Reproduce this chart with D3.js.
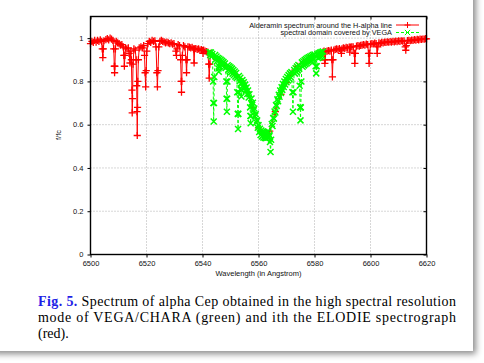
<!DOCTYPE html>
<html>
<head>
<meta charset="utf-8">
<script src="https://cdn.jsdelivr.net/npm/d3@7/dist/d3.min.js"></script>
<style>
  body { margin: 0; background: #fff; }
  svg { display: block; }
</style>
</head>
<body>
<svg id="chart" width="484" height="363"></svg>
<script>
// ELODIE spectrum (red), wavelength in Angstrom / normalised flux
const elodieSpectrum = [
  [6500.0,0.975],[6500.5,0.985],[6501.0,0.98],[6501.5,0.99],[6502.0,0.982],[6502.5,0.99],[6503.0,0.985],[6503.5,0.992],
  [6504.0,0.985],[6504.2,0.95],[6504.4,0.91],[6504.6,0.95],[6504.8,0.988],[6505.5,0.993],[6506.0,0.998],[6506.5,0.992],
  [6507.0,1.0],[6507.5,0.995],[6508.0,0.99],[6508.3,0.95],[6508.5,0.87],[6508.6,0.84],[6508.7,0.87],[6508.9,0.95],
  [6509.2,0.985],[6509.7,0.978],[6510.2,0.975],[6510.7,0.968],[6511.2,0.97],[6511.7,0.96],[6511.9,0.92],[6512.1,0.87],
  [6512.3,0.92],[6512.5,0.955],[6513.0,0.95],[6513.5,0.955],[6513.8,0.93],[6514.1,0.885],[6514.4,0.94],[6514.6,0.9],
  [6514.8,0.76],[6514.9,0.655],[6515.0,0.72],[6515.2,0.88],[6515.5,0.95],[6516.0,0.945],[6516.3,0.9],[6516.5,0.78],
  [6516.6,0.66],[6516.7,0.55],[6516.8,0.68],[6516.9,0.8],[6517.1,0.9],[6517.4,0.955],[6518.0,0.96],[6518.5,0.955],
  [6519.0,0.965],[6519.3,0.92],[6519.5,0.84],[6519.7,0.775],[6519.9,0.85],[6520.1,0.94],[6520.5,0.975],[6521.0,0.985],
  [6521.5,0.98],[6522.0,0.99],[6522.5,0.985],[6523.0,0.988],[6523.4,0.96],[6523.7,0.84],[6523.9,0.775],[6524.1,0.85],
  [6524.4,0.96],[6524.8,0.985],[6525.3,0.99],[6525.8,0.985],[6526.3,0.983],[6526.8,0.978],[6527.3,0.982],[6527.8,0.978],
  [6528.3,0.975],[6528.8,0.978],[6529.3,0.972],[6529.8,0.975],[6530.5,0.94],[6530.7,0.92],[6530.9,0.95],[6531.3,0.97],
  [6531.8,0.965],[6532.2,0.9],[6532.4,0.8],[6532.5,0.75],[6532.6,0.8],[6532.8,0.92],[6533.2,0.965],[6533.7,0.96],
  [6534.1,0.9],[6534.3,0.84],[6534.5,0.9],[6534.8,0.96],[6535.3,0.958],[6535.8,0.955],[6536.3,0.957],[6536.8,0.95],
  [6537.0,0.885],[6537.2,0.95],[6537.6,0.952],[6538.1,0.948],[6538.6,0.95],[6539.1,0.945],[6539.6,0.947],[6540.0,0.942],
  [6540.2,0.93],[6540.4,0.945],[6540.9,0.94],[6541.4,0.938],[6541.9,0.935],[6542.2,0.88],[6542.4,0.815],[6542.6,0.88],
  [6542.9,0.93],[6544.0,0.915],[6546.0,0.895],[6548.0,0.875],[6550.0,0.855],[6552.0,0.83],[6554.0,0.80],[6556.0,0.75],
  [6558.0,0.68],[6560.0,0.585],[6562.0,0.555],[6564.0,0.57],[6566.0,0.66],[6568.0,0.74],[6570.0,0.795],[6572.0,0.84],
  [6574.0,0.87],[6576.0,0.89],[6578.0,0.905],[6580.0,0.915],[6582.0,0.925],[6583.0,0.935],[6583.4,0.94],[6583.6,0.9],
  [6583.7,0.883],[6583.8,0.9],[6584.0,0.938],[6584.5,0.94],[6585.0,0.942],[6585.5,0.94],[6586.0,0.945],[6586.2,0.9],
  [6586.4,0.821],[6586.6,0.9],[6586.9,0.945],[6587.4,0.948],[6587.9,0.95],[6588.4,0.948],[6588.9,0.952],[6589.4,0.945],
  [6589.6,0.93],[6589.8,0.95],[6590.3,0.955],[6590.8,0.953],[6591.3,0.957],[6591.8,0.955],[6592.4,0.958],[6592.6,0.935],
  [6592.8,0.958],[6593.3,0.96],[6593.8,0.96],[6594.2,0.93],[6594.4,0.883],[6594.6,0.93],[6595.0,0.963],[6595.5,0.965],
  [6596.0,0.963],[6596.5,0.967],[6597.0,0.968],[6597.5,0.97],[6598.0,0.968],[6598.5,0.972],[6599.0,0.97],[6599.3,0.93],
  [6599.5,0.883],[6599.7,0.93],[6600.0,0.972],[6600.5,0.975],[6601.0,0.973],[6601.5,0.977],[6602.0,0.975],[6602.4,0.93],
  [6602.6,0.96],[6603.0,0.978],[6603.5,0.976],[6604.0,0.98],[6604.5,0.978],[6605.0,0.982],[6605.5,0.98],[6606.0,0.983],
  [6606.5,0.981],[6607.0,0.984],[6607.5,0.982],[6608.0,0.985],[6608.5,0.983],[6609.0,0.986],[6609.5,0.984],[6610.0,0.987],
  [6610.5,0.985],[6611.0,0.988],[6611.5,0.986],[6612.0,0.988],[6612.4,0.96],[6612.6,0.944],[6612.8,0.965],[6613.2,0.989],
  [6613.7,0.99],[6614.2,0.988],[6614.7,0.991],[6615.2,0.99],[6615.7,0.993],[6616.2,0.991],[6616.7,0.994],[6617.2,0.992],
  [6617.7,0.995],[6618.2,0.994],[6618.7,0.996],[6619.2,0.995],[6619.7,0.998],[6620.0,0.997],
];

// part of the spectrum covered by VEGA (green), read with its scatter
const vegaSpectrum = [
  [6542.5,0.935],[6542.75,0.922],[6543.0,0.934],[6543.25,0.915],[6543.5,0.927],
  [6543.8,0.8],[6543.9,0.7],[6544.0,0.615],[6544.1,0.7],[6544.2,0.82],
  [6544.5,0.922],[6544.75,0.902],[6545.0,0.915],[6545.25,0.894],[6545.5,0.908],
  [6545.7,0.86],[6545.8,0.845],[6545.9,0.87],
  [6546.0,0.905],[6546.25,0.884],[6546.5,0.9],[6546.75,0.878],[6547.0,0.895],[6547.25,0.872],[6547.5,0.889],
  [6547.75,0.867],[6548.0,0.883],[6548.25,0.862],
  [6548.5,0.8],[6548.6,0.72],[6548.7,0.66],[6548.8,0.72],[6548.9,0.8],
  [6549.0,0.875],[6549.25,0.854],[6549.5,0.87],[6549.75,0.848],[6550.0,0.865],[6550.25,0.843],[6550.5,0.859],
  [6550.75,0.836],[6551.0,0.853],[6551.25,0.83],[6551.5,0.846],[6551.75,0.822],[6552.0,0.839],[6552.25,0.816],
  [6552.4,0.75],[6552.6,0.65],[6552.7,0.58],[6552.8,0.65],[6552.9,0.75],
  [6553.0,0.825],[6553.25,0.801],[6553.5,0.817],
  [6553.7,0.79],[6553.8,0.76],[6553.9,0.73],[6554.0,0.76],[6554.1,0.79],
  [6554.25,0.806],[6554.5,0.781],[6554.75,0.796],[6555.0,0.769],[6555.25,0.785],[6555.5,0.756],[6555.75,0.772],
  [6556.0,0.742],[6556.25,0.758],[6556.5,0.726],[6556.75,0.741],
  [6557.0,0.68],[6557.1,0.64],[6557.2,0.607],[6557.3,0.64],[6557.4,0.7],
  [6557.5,0.721],[6557.75,0.691],[6558.0,0.701],[6558.25,0.666],[6558.5,0.675],[6558.75,0.639],[6559.0,0.648],
  [6559.25,0.611],[6559.5,0.62],[6559.75,0.586],[6560.0,0.598],[6560.25,0.566],[6560.5,0.581],[6560.75,0.552],
  [6561.0,0.573],[6561.25,0.546],[6561.5,0.568],[6561.75,0.541],[6562.0,0.565],[6562.25,0.539],[6562.5,0.563],
  [6562.75,0.538],[6563.0,0.565],[6563.25,0.541],[6563.5,0.568],[6563.75,0.544],
  [6564.0,0.55],[6564.1,0.52],[6564.3,0.474],[6564.5,0.53],
  [6564.75,0.603],[6565.0,0.594],[6565.25,0.631],[6565.5,0.628],[6565.75,0.661],[6566.0,0.656],[6566.25,0.691],
  [6566.5,0.686],[6566.75,0.717],[6567.0,0.708],[6567.25,0.738],[6567.5,0.729],[6567.75,0.758],[6568.0,0.746],
  [6568.25,0.773],[6568.5,0.761],[6568.75,0.788],[6569.0,0.774],[6569.25,0.8],[6569.5,0.786],[6569.75,0.811],
  [6570.0,0.796],[6570.25,0.82],[6570.5,0.804],[6570.75,0.829],[6571.0,0.812],[6571.25,0.837],[6571.5,0.819],
  [6571.75,0.843],
  [6572.1,0.75],[6572.3,0.66],[6572.5,0.75],
  [6572.75,0.853],[6573.0,0.836],[6573.25,0.861],[6573.5,0.844],[6573.75,0.869],[6574.0,0.851],[6574.25,0.876],
  [6574.5,0.858],
  [6574.7,0.78],[6574.9,0.68],[6575.0,0.62],[6575.1,0.68],[6575.3,0.8],
  [6575.5,0.888],[6575.75,0.868],[6576.0,0.893],[6576.25,0.874],[6576.5,0.899],[6576.75,0.88],[6577.0,0.903],
  [6577.25,0.884],[6577.5,0.908],[6577.75,0.889],[6578.0,0.912],[6578.25,0.893],[6578.5,0.915],[6578.75,0.896],
  [6579.0,0.919],[6579.25,0.9],[6579.5,0.922],[6579.75,0.903],[6580.0,0.924],
  [6580.4,0.87],[6580.6,0.837],[6580.8,0.87],
  [6581.0,0.927],[6581.25,0.908],[6581.5,0.93],[6581.75,0.911],[6582.0,0.933],[6582.25,0.914],[6582.5,0.936],
  [6582.75,0.918],[6583.0,0.938],
];

const xTicks = [ 6500, 6520, 6540, 6560, 6580, 6600, 6620 ];
const yTicks = [ 0, 0.2, 0.4, 0.6, 0.8, 1 ];
const legendLabels = [ "Alderamin spectrum around the H-alpha line", "spectral domain covered by VEGA" ];
const captionLines = [
  "Spectrum of alpha Cep obtained in the high spectral resolution",
  "mode of VEGA/CHARA (green) and ith the ELODIE spectrograph",
  "(red).",
];

const svg = d3.select( "#chart" );
const MARGINS = { top: 16.5, right: 57.5, bottom: 108.5, left: 90.5 };
const WIDTH = 484;
const HEIGHT = 363;
const RED = "#ff0000";
const GREEN = "#00ff00";

// card with shadow
const defs = svg.append( "defs" );
const shadow = defs.append( "filter" ).attr( "id", "shadow" )
  .attr( "x", "-10%" ).attr( "y", "-10%" ).attr( "width", "130%" ).attr( "height", "130%" );
shadow.append( "feDropShadow" )
  .attr( "dx", 3 ).attr( "dy", 3 ).attr( "stdDeviation", 3 )
  .attr( "flood-color", "#000" ).attr( "flood-opacity", 0.45 );

svg.append( "rect" )
  .attr( "x", -10 ).attr( "y", -10 )
  .attr( "width", 483 ).attr( "height", 361 )
  .attr( "fill", "#fff" )
  .attr( "filter", "url(#shadow)" );

const xScale = d3.scaleLinear()
  .domain( [ 6500, 6620 ] )
  .range( [ MARGINS.left, WIDTH - MARGINS.right ] );
const yScale = d3.scaleLinear()
  .domain( [ 0, 1.1 ] )
  .range( [ HEIGHT - MARGINS.bottom, MARGINS.top ] );

const plot = svg.append( "g" ).attr( "font-family", "'Liberation Sans', Arial, sans-serif" );

// grid
plot.append( "g" )
  .selectAll( "line" )
  .data( xTicks.slice( 1, -1 ) )
  .enter()
  .append( "line" )
  .attr( "x1", d => xScale( d ) ).attr( "x2", d => xScale( d ) )
  .attr( "y1", yScale( 0 ) ).attr( "y2", yScale( 1.1 ) )
  .attr( "stroke", "#9a9a9a" ).attr( "stroke-width", 0.8 ).attr( "stroke-dasharray", "1,2" );
plot.append( "g" )
  .selectAll( "line" )
  .data( yTicks.slice( 1 ) )
  .enter()
  .append( "line" )
  .attr( "x1", xScale( 6500 ) ).attr( "x2", xScale( 6620 ) )
  .attr( "y1", d => yScale( d ) ).attr( "y2", d => yScale( d ) )
  .attr( "stroke", "#9a9a9a" ).attr( "stroke-width", 0.8 ).attr( "stroke-dasharray", "1,2" );

// axes
const xAxis = d3.axisBottom( xScale ).tickValues( xTicks ).tickSize( 3 ).tickPadding( 3 ).tickFormat( d3.format( "d" ) );
const yAxis = d3.axisLeft( yScale ).tickValues( yTicks ).tickSize( 3 ).tickPadding( 4 ).tickFormat( d => String( d ) );

const gx = plot.append( "g" )
  .attr( "transform", `translate(0,${yScale( 0 )})` )
  .call( xAxis );
const gy = plot.append( "g" )
  .attr( "transform", `translate(${xScale( 6500 )},0)` )
  .call( yAxis );
[ gx, gy ].forEach( g => {
  g.select( ".domain" ).remove();
  g.selectAll( "text" ).attr( "font-size", 7.5 ).attr( "fill", "#111" ).attr( "font-family", "'Liberation Sans', Arial, sans-serif" );
  g.selectAll( "line" ).attr( "stroke", "#000" );
} );
gy.selectAll( "text" ).attr( "dy", "0.3em" );

// mirrored ticks on top and right
plot.append( "g" )
  .attr( "transform", `translate(0,${yScale( 1.1 )})` )
  .call( d3.axisTop( xScale ).tickValues( xTicks ).tickSize( -3 ).tickFormat( "" ) )
  .call( g => g.select( ".domain" ).remove() );
plot.append( "g" )
  .attr( "transform", `translate(${xScale( 6620 )},0)` )
  .call( d3.axisRight( yScale ).tickValues( yTicks ).tickSize( -3 ).tickFormat( "" ) )
  .call( g => g.select( ".domain" ).remove() );

// series
const lineFunc = d3.line()
  .x( d => xScale( d[0] ) )
  .y( d => yScale( d[1] ) );

const plusPath = s => `M${-s},0H${s}M0,${-s}V${s}`;
const crossPath = s => `M${-s},${-s}L${s},${s}M${-s},${s}L${s},${-s}`;

const drawSeries = ( data, color, dash, marker, width ) => {
  const g = plot.append( "g" );
  g.append( "path" )
    .attr( "d", lineFunc( data ) )
    .attr( "fill", "none" )
    .attr( "stroke", color )
    .attr( "stroke-width", 1 )
    .attr( "stroke-dasharray", dash );
  g.selectAll( "path.pt" )
    .data( data )
    .enter()
    .append( "path" )
    .attr( "class", "pt" )
    .attr( "transform", d => `translate(${xScale( d[0] )},${yScale( d[1] )})` )
    .attr( "d", marker )
    .attr( "fill", "none" )
    .attr( "stroke", color )
    .attr( "stroke-width", width );
};

drawSeries( elodieSpectrum, RED, null, plusPath( 3.6 ), 1.3 );
drawSeries( vegaSpectrum, GREEN, "3,2", crossPath( 3 ), 1.5 );

// border
plot.append( "rect" )
  .attr( "x", xScale( 6500 ) ).attr( "y", yScale( 1.1 ) )
  .attr( "width", xScale( 6620 ) - xScale( 6500 ) )
  .attr( "height", yScale( 0 ) - yScale( 1.1 ) )
  .attr( "fill", "none" ).attr( "stroke", "#000" ).attr( "stroke-width", 1.4 );

// axis titles
plot.append( "text" )
  .attr( "x", ( xScale( 6500 ) + xScale( 6620 ) ) / 2 )
  .attr( "y", 276 )
  .attr( "text-anchor", "middle" ).attr( "font-size", 7.5 ).attr( "fill", "#111" )
  .text( "Wavelength (in Angstrom)" );
plot.append( "text" )
  .attr( "transform", "translate(61,135) rotate(-90)" )
  .attr( "text-anchor", "middle" ).attr( "font-size", 7.5 ).attr( "fill", "#111" )
  .text( "f/fc" );

// legend
const legend = plot.append( "g" );
const legendColors = [ RED, GREEN ];
const legendDash = [ null, "3,2" ];
const legendMarks = [ plusPath( 3 ), crossPath( 2.6 ) ];
legendLabels.forEach( ( label, i ) => {
  const y = 25 + i * 7.5;
  legend.append( "text" )
    .attr( "x", 392 ).attr( "y", y + 2.5 )
    .attr( "text-anchor", "end" ).attr( "font-size", 7.3 ).attr( "fill", "#111" )
    .text( label );
  legend.append( "line" )
    .attr( "x1", 396 ).attr( "x2", 419 ).attr( "y1", y ).attr( "y2", y )
    .attr( "stroke", legendColors[i] ).attr( "stroke-dasharray", legendDash[i] );
  legend.append( "path" )
    .attr( "transform", `translate(407.5,${y})` )
    .attr( "d", legendMarks[i] )
    .attr( "fill", "none" ).attr( "stroke", legendColors[i] );
} );

// caption
const caption = svg.append( "g" )
  .attr( "font-family", "'Liberation Serif', 'Times New Roman', serif" )
  .attr( "font-size", 14 )
  .attr( "fill", "#000" );
captionLines.forEach( ( line, i ) => {
  const t = caption.append( "text" )
    .attr( "x", 38 ).attr( "y", 306 + i * 16 );
  if ( i === 0 ) {
    t.append( "tspan" ).attr( "fill", "#1f1fe6" ).attr( "font-weight", "bold" ).text( "Fig. 5." );
    t.append( "tspan" ).text( " " + line );
  } else {
    t.text( line );
  }
  if ( i < captionLines.length - 1 ) {
    t.attr( "textLength", 418 ).attr( "lengthAdjust", "spacing" );
  }
} );
</script>
</body>
</html>
